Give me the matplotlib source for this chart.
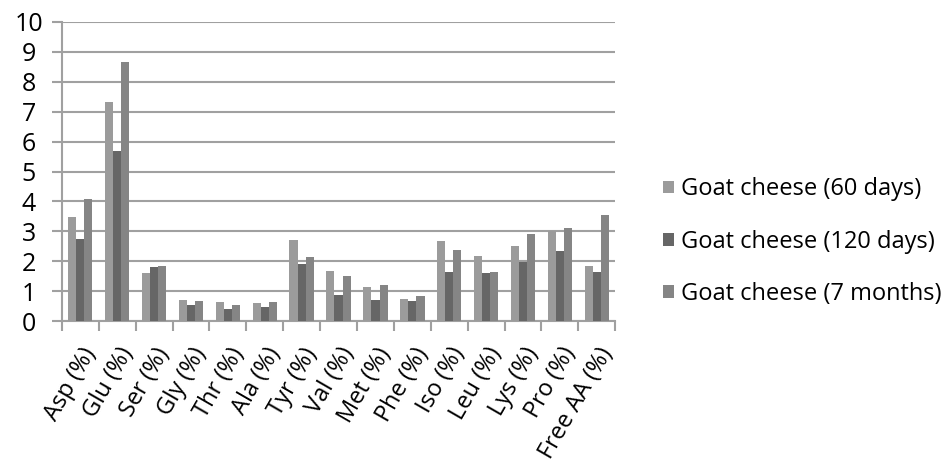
import matplotlib
matplotlib.use("Agg")
import matplotlib.pyplot as plt
import numpy as np

categories = ["Asp (%)", "Glu (%)", "Ser (%)", "Gly (%)", "Thr (%)", "Ala (%)", "Tyr (%)",
              "Val (%)", "Met (%)", "Phe (%)", "Iso (%)", "Leu (%)", "Lys (%)", "Pro (%)",
              "Free AA (%)"]
days60 = [3.49, 7.31, 1.59, 0.69, 0.63, 0.59, 2.72, 1.69, 1.15, 0.74, 2.67, 2.19, 2.50, 3.00, 1.83]
days120 = [2.74, 5.67, 1.81, 0.53, 0.41, 0.48, 1.91, 0.86, 0.71, 0.67, 1.63, 1.61, 1.99, 2.35, 1.65]
months7 = [4.09, 8.65, 1.83, 0.67, 0.53, 0.64, 2.14, 1.50, 1.19, 0.83, 2.39, 1.64, 2.91, 3.11, 3.53]
series = ["Goat cheese (60 days)", "Goat cheese (120 days)", "Goat cheese (7 months)"]
colors = ["#9b9b9b", "#666666", "#858585"]

plt.rcParams["font.family"] = ["Open Sans", "DejaVu Sans"]

fig = plt.figure(figsize=(9.51, 4.68), dpi=100)
ax = fig.add_axes([0.065, 0.314, 0.582, 0.639])

x = np.arange(len(categories))
w = 0.22
for i, (vals, lab, c) in enumerate(zip([days60, days120, months7], series, colors)):
    ax.bar(x + (i - 1) * w, vals, width=w, color=c, label=lab, zorder=3)

ax.set_xlim(-0.5, len(categories) - 0.5)
ax.set_ylim(0, 10)
ax.set_yticks(range(0, 11))
ax.yaxis.grid(True, color="#a0a0a0", lw=1.5, zorder=0)

# category boundaries get the tick marks, centres get the labels
ax.set_xticks(np.arange(-0.5, len(categories), 1.0))
ax.set_xticklabels([])
ax.set_xticks(x, minor=True)
ax.set_xticklabels(categories, minor=True, rotation=60, ha="right",
                   rotation_mode="anchor", fontsize=17)
ax.tick_params(axis="x", which="minor", length=0, pad=16)
ax.tick_params(axis="x", which="major", length=7, width=1.5, color="#a0a0a0", direction="out")
ax.tick_params(axis="y", length=7, width=1.5, color="#a0a0a0", labelsize=18, pad=16.7)
for lab in ax.get_yticklabels():
    lab.set_horizontalalignment("center")

for s in ["top", "right"]:
    ax.spines[s].set_visible(False)
for s in ["left", "bottom"]:
    ax.spines[s].set_color("#a0a0a0")
    ax.spines[s].set_linewidth(1.5)

ax.legend(loc="center left", bbox_to_anchor=(1.086, 0.265), frameon=False, fontsize=17,
          handlelength=0.45, handleheight=0.45, handletextpad=0.3, labelspacing=1.2,
          borderpad=0, borderaxespad=0)

fig.savefig("out.png", dpi=100)
